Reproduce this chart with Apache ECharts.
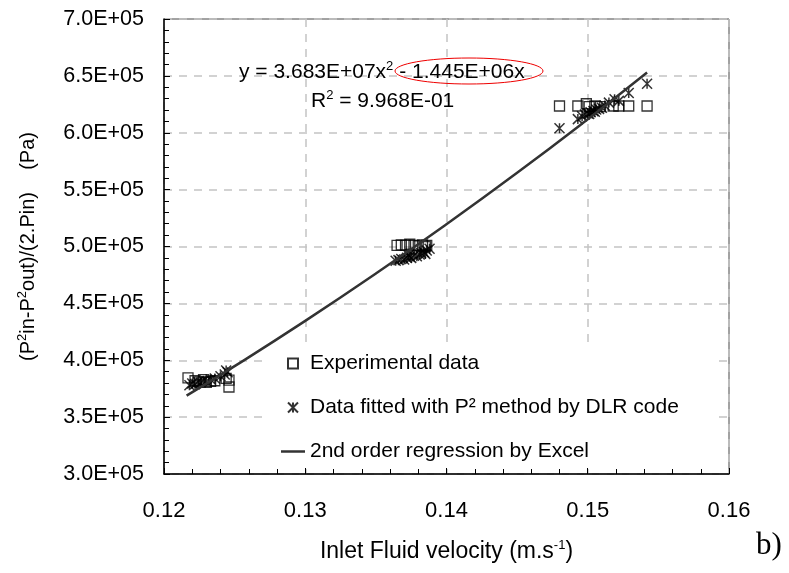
<!DOCTYPE html>
<html><head><meta charset="utf-8">
<script src="https://cdn.jsdelivr.net/npm/echarts@6/dist/echarts.min.js"></script>
<style>html,body{margin:0;padding:0;background:#fff}#c{width:789px;height:573px}</style>
</head><body><div id="c"></div>
<script>
// Experimental data (open squares)
const expX = [0.1217,0.1222,0.1225,0.1228,0.1230,0.1233,0.1236,0.1244,0.1246,0.1246,
  0.1365,0.1368,0.1371,0.1374,0.1377,0.1380,0.1383,0.1385,0.1386,
  0.1480,0.1493,0.1499,0.1501,0.1505,0.1509,0.1518,0.1522,0.1529,0.1542];
const expY = [384500,382000,381000,383000,380500,381500,382000,384000,382500,376500,
  501000,501500,501000,502000,501000,500500,501500,500000,501000,
  623500,623500,625500,623000,623500,623000,623500,623500,623500,623500];
// Data fitted with P² method by DLR code (asterisks)
const fitX = [0.1218,0.1220,0.1222,0.1224,0.1226,0.1228,0.1230,0.1233,0.1236,0.1240,0.1243,0.1245,0.1244,
  0.1364,0.1366,0.1368,0.1370,0.1372,0.1374,0.1375,0.1377,0.1379,0.1381,0.1382,0.1384,0.1386,0.1388,0.1385,0.1373,
  0.1480,0.1493,0.1496,0.1498,0.1500,0.1502,0.1504,0.1506,0.1508,0.1510,0.1512,0.1515,0.1519,0.1522,0.1529,0.1542,0.1501,0.1505];
const fitY = [378000,379500,379000,381000,380500,382000,381500,383000,384000,386000,387500,389500,391000,
  487500,488000,489000,488500,490000,491000,490000,492000,491500,493000,494000,495000,496500,498000,493500,492500,
  604000,612000,614500,616000,617000,618000,619000,620500,621000,622000,624000,626500,629500,628000,635000,643000,616500,618500];
// 2nd order regression curve
const regX = [0.1216,0.125,0.130,0.135,0.140,0.145,0.150,0.1542];
const regY = [368900,394800,434600,476200,519600,564800,611900,652900];
// Axis ticks
const xTicks = [0.12,0.13,0.14,0.15,0.16];
const yTicks = [300000,350000,400000,450000,500000,550000,600000,650000,700000];

const zip = (a,b)=>a.map((v,i)=>[v,b[i]]);
const FONT = 'Liberation Sans, Arial, sans-serif';
const chart = echarts.init(document.getElementById('c'), null, {renderer:'canvas'});
const dash = {color:'#c4c4c4', width:1.5, type:[8,7]};
const supStyle = {fontSize:13, padding:[0,0,12,0], fontFamily:FONT, color:'#000'};
chart.setOption({
  animation:false,
  backgroundColor:'#fff',
  grid:{left:164, right:60, top:19, bottom:99, show:true, borderColor:'#444', borderWidth:1, backgroundColor:'transparent'},
  xAxis:{type:'value', min:xTicks[0], max:xTicks[xTicks.length-1], interval:0.01,
    axisLine:{lineStyle:{color:'#000', width:1.5}},
    axisTick:{inside:true, length:6, lineStyle:{color:'#000'}},
    minorTick:{show:true, splitNumber:5, length:5, lineStyle:{color:'#000'}},
    splitLine:{show:true, lineStyle:dash},
    axisLabel:{fontFamily:FONT, fontSize:22, color:'#000', margin:26, formatter:v=>v.toFixed(2)},
    name:'Inlet Fluid velocity (m.s{sup|-1})', nameLocation:'middle', nameGap:65,
    nameTextStyle:{fontFamily:FONT, fontSize:23, color:'#000', rich:{sup:supStyle}}
  },
  yAxis:{type:'value', min:yTicks[0], max:yTicks[yTicks.length-1], interval:50000,
    axisLine:{lineStyle:{color:'#000', width:1.5}},
    axisTick:{inside:true, length:6, lineStyle:{color:'#000'}},
    minorTick:{show:true, splitNumber:5, length:5, lineStyle:{color:'#000'}},
    splitLine:{show:true, lineStyle:dash},
    axisLabel:{fontFamily:FONT, fontSize:21.5, color:'#000', margin:20, formatter:v=>(v/1e5).toFixed(1)+'E+05'},
    name:'(P{sup|2}in-P{sup|2}out)/(2.Pin)    (Pa)', nameLocation:'middle', nameGap:123, nameRotate:90,
    nameTextStyle:{fontFamily:FONT, fontSize:20, color:'#000', rich:{sup:supStyle}}
  },
  legend:{orient:'vertical', left:266, top:343, padding:[10,40,4,15], itemGap:23,
    itemWidth:24, itemHeight:10, backgroundColor:'#fff',
    textStyle:{fontFamily:FONT, fontSize:21, color:'#000'},
    data:[
      {name:'Experimental data', icon:'path://M0,0h10v10h-10z'},
      {name:'Data fitted with P² method by DLR code'},
      {name:'2nd order regression by Excel', icon:'path://M0,0h24v2.5h-24z'}
    ]},
  series:[
    {name:'Experimental data', type:'scatter', data:zip(expX,expY), symbol:'rect', symbolSize:10,
      itemStyle:{color:'rgba(255,255,255,0)', borderColor:'#000', borderWidth:1.3}, z:2},
    {name:'Data fitted with P² method by DLR code', type:'scatter', data:zip(fitX,fitY),
      symbol:'path://M0,0L10,10M10,0L0,10M5,0L5,10', symbolSize:10,
      itemStyle:{color:'#000', borderColor:'#000', borderWidth:1.5}, z:3},
    {name:'2nd order regression by Excel', type:'line', data:zip(regX,regY), smooth:true,
      symbol:'none', lineStyle:{color:'#333', width:2.5}, itemStyle:{color:'#333'}, z:4}
  ],
  graphic:[
    {type:'text', left:239, top:60, z:10, style:{text:'y = 3.683E+07x{sup|2} - 1.445E+06x',
      font:'21px '+FONT, fill:'#000', rich:{sup:{fontSize:13, padding:[0,0,12,0], fontFamily:FONT, fill:'#000'}}}},
    {type:'text', left:311, top:89, z:10, style:{text:'R{sup|2} = 9.968E-01',
      font:'21px '+FONT, fill:'#000', rich:{sup:{fontSize:13, padding:[0,0,12,0], fontFamily:FONT, fill:'#000'}}}},
    {type:'ellipse', z:10, shape:{cx:469, cy:71, rx:74, ry:13}, style:{fill:'none', stroke:'#e00', lineWidth:1}},
    {type:'text', left:756, top:530, z:10, style:{text:'b)', font:'31px "Liberation Serif", serif', fill:'#000'}}
  ]
});
</script></body></html>
